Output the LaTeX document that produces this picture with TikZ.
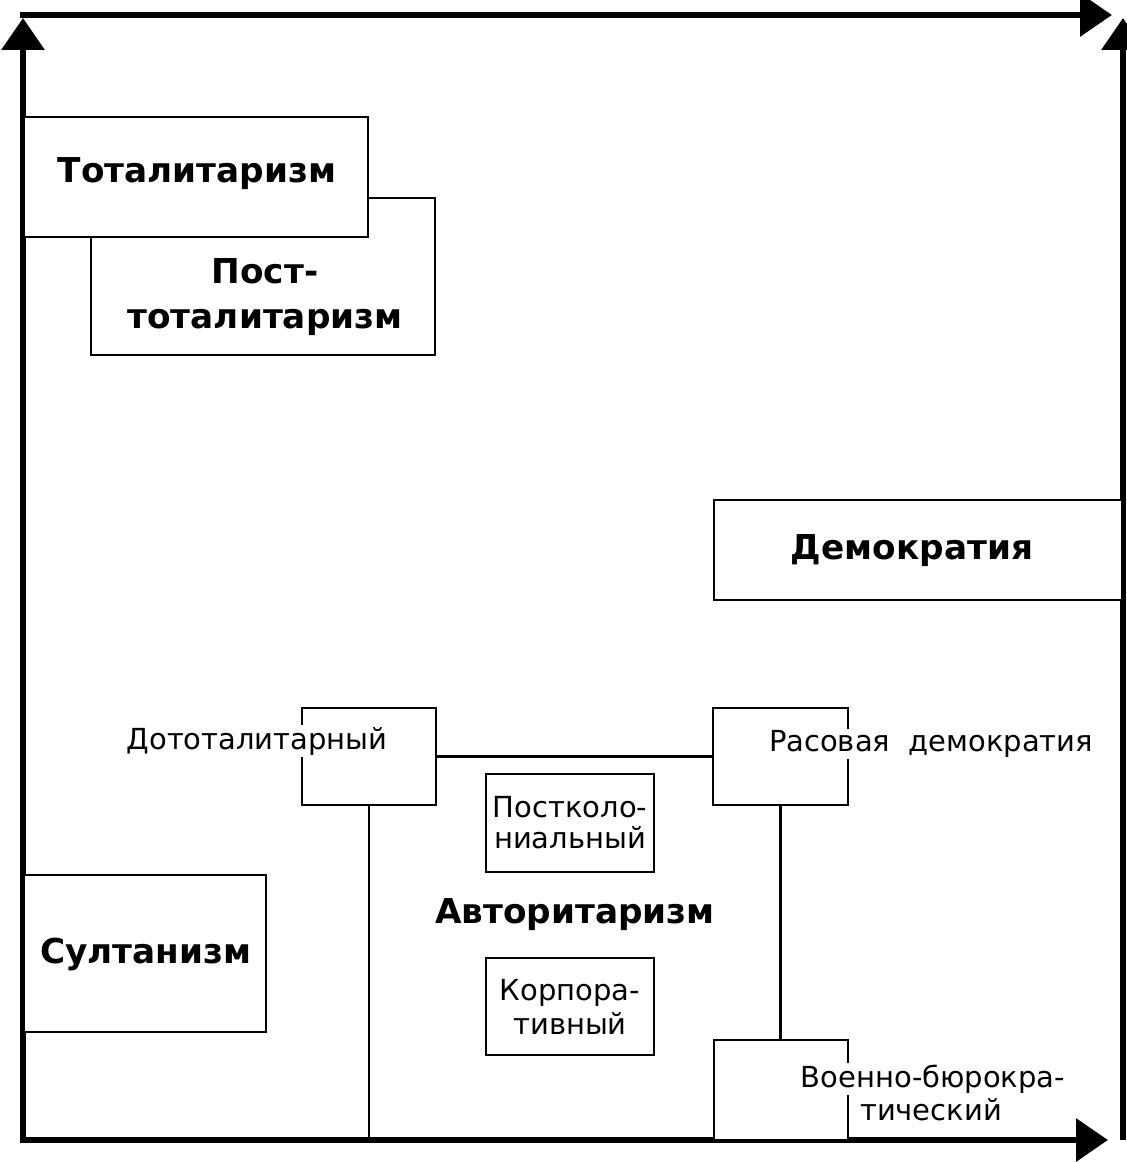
\documentclass[tikz,border=0pt]{standalone}
\usepackage{fontspec}
\setmainfont{DejaVu Sans}
\usetikzlibrary{arrows.meta}
\tikzset{
  axis/.style={line width=3.7pt, -{Triangle[width=0.84cm,length=0.64cm]}},
  box/.style={draw, line width=1.3pt, inner sep=0pt, fill=white},
  conn/.style={line width=1.3pt},
  boldtxt/.style={font=\fontsize{19.5}{26}\selectfont\bfseries, align=center, inner sep=0pt},
  regtxt/.style={font=\fontsize{16.5}{17.6}\selectfont, align=center, inner sep=0pt},
  whitetxt/.style={regtxt, fill=white, inner sep=1pt}
}
\begin{document}
\begin{tikzpicture}[x=0.02cm,y=-0.02cm]
\useasboundingbox (0,0) rectangle (1126,1162);
% axes
\coordinate (bl) at (23,1140);
\coordinate (tltip) at (23,18);
\coordinate (tl) at (20,15);
\coordinate (trtip) at (1112,15);
\coordinate (br) at (1123,1140);
\coordinate (rtip) at (1123,18);
\coordinate (bl2) at (20,1140);
\coordinate (btip) at (1108,1140);
\draw[axis] (bl) -- (tltip);
\draw[axis] (tl) -- (trtip);
\draw[axis] (br) -- (rtip);
\draw[axis] (bl2) -- (btip);
% boxes
\node[box, minimum width=6.88cm, minimum height=3.14cm] (post) at (263,276.5) {};
\node[boldtxt] (posttxt) at (265,297) {Пост-\\тоталитаризм};
\node[box, minimum width=6.88cm, minimum height=2.4cm] (tot) at (196,177) {};
\node[boldtxt] (tottxt) at (197,174) {Тоталитаризм};
\node[box, minimum width=8.16cm, minimum height=2.0cm] (demo) at (918,550) {};
\node[boldtxt] (demotxt) at (912,551) {Демократия};
\node[box, minimum width=4.84cm, minimum height=3.14cm] (sultan) at (145,953.5) {};
\node[boldtxt] (sultantxt) at (146,954) {Султанизм};
\node[box, minimum width=2.68cm, minimum height=1.94cm] (doto) at (369,756.5) {};
\node[whitetxt] (dototxt) at (257,741) {Дототалитарный};
\node[box, minimum width=2.7cm, minimum height=1.94cm] (rasov) at (780.5,756.5) {};
\node[whitetxt] (rasovtxt) at (931,744) {Расовая\ \ демократия};
\node[box, minimum width=2.68cm, minimum height=2.0cm] (voen) at (781,1090) {};
\node[whitetxt] (voentxt1) at (933,1079) {Военно-бюрокра-};
\node[regtxt] (voentxt2) at (931,1110) {тический};
\node[box, minimum width=3.36cm, minimum height=1.96cm, regtxt, draw, fill=white, font=\fontsize{16.5}{17.6}\selectfont] (postkol) at (570,823) {Постколо-\\ниальный};
\node[box, minimum width=3.36cm, minimum height=1.94cm, regtxt, draw, fill=white, font=\fontsize{16.5}{19.3}\selectfont] (korp) at (570,1006.5) {Корпора-\\тивный};
\node[boldtxt] (avt) at (575,915) {Авторитаризм};
% connectors
\coordinate (dotoend) at (doto.south |- bl);
\draw[conn] (doto.east) -- (rasov.west);
\draw[conn] (doto.south) -- (dotoend);
\draw[conn] (rasov.south) -- (rasov.south |- voen.north);
\end{tikzpicture}
\end{document}
